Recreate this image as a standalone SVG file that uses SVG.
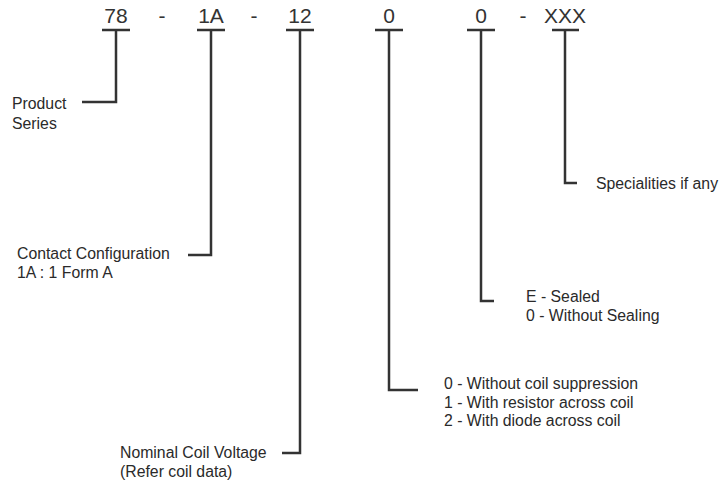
<svg xmlns="http://www.w3.org/2000/svg" width="721" height="481" viewBox="0 0 721 481">
<style>
.code{font-family:"Liberation Sans",Arial,sans-serif;font-size:21px;fill:#333;text-anchor:middle}
.lbl{font-family:"Liberation Sans",Arial,sans-serif;font-size:15.8px;fill:#2a2a2a}
.ln{stroke:#333;stroke-width:2.5;fill:none}
</style>
<rect width="721" height="481" fill="#fff"/>
<g id="codes">
<text class="code" x="116" y="23">78</text>
<text class="code" x="162" y="23">-</text>
<text class="code" x="211" y="23">1A</text>
<text class="code" x="254" y="23">-</text>
<text class="code" x="300" y="23">12</text>
<text class="code" x="389" y="23">0</text>
<text class="code" x="481" y="23">0</text>
<text class="code" x="523" y="23">-</text>
<text class="code" x="565" y="23">XXX</text>
</g>
<g id="connectors">
<path class="ln" d="M102 30H130M116 30V102H82"/>
<path class="ln" d="M197 30H225M211 30V255H188"/>
<path class="ln" d="M286 30H314M300 30V453H282"/>
<path class="ln" d="M375 30H403M389 30V390H418"/>
<path class="ln" d="M467 30H495M481 30V301H494"/>
<path class="ln" d="M552 30H579M565 30V183H577"/>
</g>
<g id="product-series">
<text class="lbl" x="12" y="109">Product</text>
<text class="lbl" x="12" y="129">Series</text>
</g>
<g id="contact-config">
<text class="lbl" x="17" y="259">Contact Configuration</text>
<text class="lbl" x="17" y="278">1A : 1 Form A</text>
</g>
<g id="coil-voltage">
<text class="lbl" x="120" y="458">Nominal Coil Voltage</text>
<text class="lbl" x="120" y="477">(Refer coil data)</text>
</g>
<g id="suppression">
<text class="lbl" x="444" y="389">0 - Without coil suppression</text>
<text class="lbl" x="444" y="408">1 - With resistor across coil</text>
<text class="lbl" x="444" y="426">2 - With diode across coil</text>
</g>
<g id="sealing">
<text class="lbl" x="526" y="302">E - Sealed</text>
<text class="lbl" x="526" y="321">0 - Without Sealing</text>
</g>
<g id="specialities">
<text class="lbl" x="596" y="189">Specialities if any</text>
</g>
</svg>
